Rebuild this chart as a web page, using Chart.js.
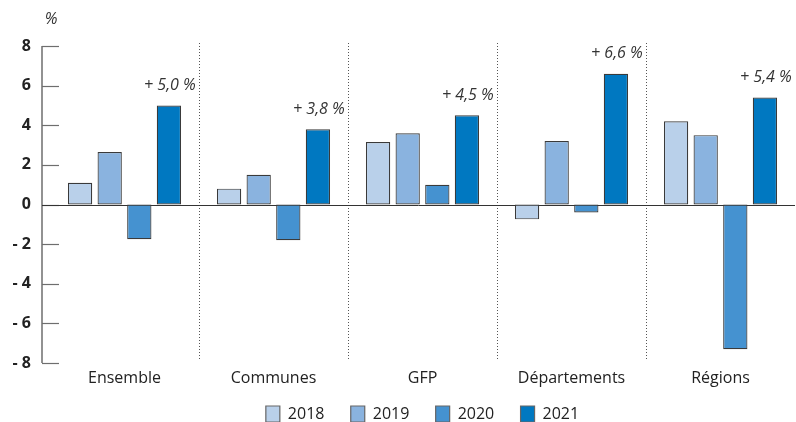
<!DOCTYPE html>
<html>
<head>
<meta charset="utf-8">
<script src="https://cdn.jsdelivr.net/npm/chart.js@4.4.0/dist/chart.umd.min.js"></script>
<style>
  html, body { margin: 0; padding: 0; background: #fff; }
  #wrap { width: 796px; height: 422px; }
</style>
</head>
<body>
<div id="wrap"><canvas id="myChart" width="796" height="422"></canvas></div>
<script>
const categories = ['Ensemble', 'Communes', 'GFP', 'Départements', 'Régions'];
const years = ['2018', '2019', '2020', '2021'];
const values2018 = [1.1, 0.8, 3.15, -0.75, 4.2];
const values2019 = [2.65, 1.5, 3.6, 3.2, 3.5];
const values2020 = [-1.75, -1.8, 1.0, -0.4, -7.3];
const values2021 = [5.0, 3.8, 4.5, 6.6, 5.4];
const yTicks = [-8, -6, -4, -2, 0, 2, 4, 6, 8];

const colors = ['#b9d0ea', '#8ab3df', '#4592d0', '#0078c1'];
const FONT = "'Open Sans', 'Noto Sans', sans-serif";

// axis, zero line, dotted separators + the "+ x,x %" labels
const axisPlugin = {
  id: 'axisPlugin',
  beforeDatasetsDraw(chart) {
    const ctx = chart.ctx;
    const area = chart.chartArea;
    const y = chart.scales.y;
    const x = chart.scales.x;
    const axisX = area.left - 8;
    ctx.save();
    ctx.strokeStyle = '#555';
    ctx.lineWidth = 1;
    ctx.setLineDash([1, 2]);
    for (let i = 0; i < categories.length - 1; i++) {
      const sx = Math.round((x.getPixelForValue(i) + x.getPixelForValue(i + 1)) / 2) + 0.5;
      ctx.beginPath();
      ctx.moveTo(sx, area.top - 3);
      ctx.lineTo(sx, area.bottom - 3);
      ctx.stroke();
    }
    ctx.setLineDash([]);
    ctx.strokeStyle = '#6e6e6e';
    ctx.lineWidth = 1.5;
    ctx.beginPath();
    ctx.moveTo(axisX, y.getPixelForValue(8));
    ctx.lineTo(axisX, y.getPixelForValue(-8));
    ctx.stroke();
    ctx.lineWidth = 1.2;
    yTicks.forEach(v => {
      const py = Math.round(y.getPixelForValue(v)) + 0.5;
      ctx.beginPath();
      ctx.moveTo(axisX, py);
      ctx.lineTo(axisX + 17, py);
      ctx.stroke();
    });
    ctx.strokeStyle = '#333';
    ctx.lineWidth = 1;
    const zy = Math.round(y.getPixelForValue(0)) + 0.5;
    ctx.beginPath();
    ctx.moveTo(axisX, zy);
    ctx.lineTo(area.right, zy);
    ctx.stroke();
    ctx.restore();
  },
  afterDatasetsDraw(chart) {
    const ctx = chart.ctx;
    const meta = chart.getDatasetMeta(3);
    ctx.save();
    ctx.fillStyle = '#333';
    ctx.font = "italic 16px " + FONT;
    ctx.textAlign = 'center';
    ctx.textBaseline = 'middle';
    meta.data.forEach((bar, i) => {
      const txt = '+ ' + values2021[i].toFixed(1).replace('.', ',') + ' %';
      ctx.fillText(txt, bar.x + 1, bar.y - 20);
    });
    ctx.fillText('%', chart.chartArea.left + 1, 19);
    ctx.restore();
  }
};

const datasets = [values2018, values2019, values2020, values2021].map((vals, i) => ({
  label: years[i],
  data: vals,
  backgroundColor: colors[i],
  borderColor: '#3a3a3a',
  borderWidth: 1.2,
  borderSkipped: false,
  categoryPercentage: 0.795,
  barPercentage: 0.82
}));

const myChart = new Chart(document.getElementById('myChart').getContext('2d'), {
  type: 'bar',
  data: { labels: categories, datasets: datasets },
  options: {
    responsive: false,
    animation: false,
    layout: { padding: { top: 46, right: 1, left: 0, bottom: 0 } },
    plugins: {
      tooltip: { enabled: false },
      legend: {
        position: 'bottom',
        fullSize: false,
        maxHeight: 34,
        labels: {
          boxWidth: 14,
          boxHeight: 16,
          padding: 18,
          color: '#222',
          font: { family: FONT, size: 16 },
          generateLabels(chart) {
            const items = Chart.defaults.plugins.legend.labels.generateLabels(chart);
            items.forEach((it, i) => {
              if (i < items.length - 1) it.text = it.text + '  ';
              it.strokeStyle = '#666';
            });
            return items;
          }
        }
      }
    },
    scales: {
      x: {
        grid: { display: false, drawTicks: false },
        border: { display: false },
        ticks: { color: '#222', padding: 6, font: { family: FONT, size: 16 } },
        afterFit(scale) { scale.height = 25; }
      },
      y: {
        min: -8,
        max: 8,
        grid: { display: false, drawTicks: false },
        border: { display: false },
        ticks: {
          stepSize: 2,
          padding: 19,
          color: '#222',
          font: { family: FONT, size: 16, weight: 'bold' },
          callback: v => v < 0 ? '- ' + Math.abs(v) : '' + v
        },
        afterFit(scale) { scale.width = 50; }
      }
    }
  },
  plugins: [axisPlugin]
});
</script>
</body>
</html>
